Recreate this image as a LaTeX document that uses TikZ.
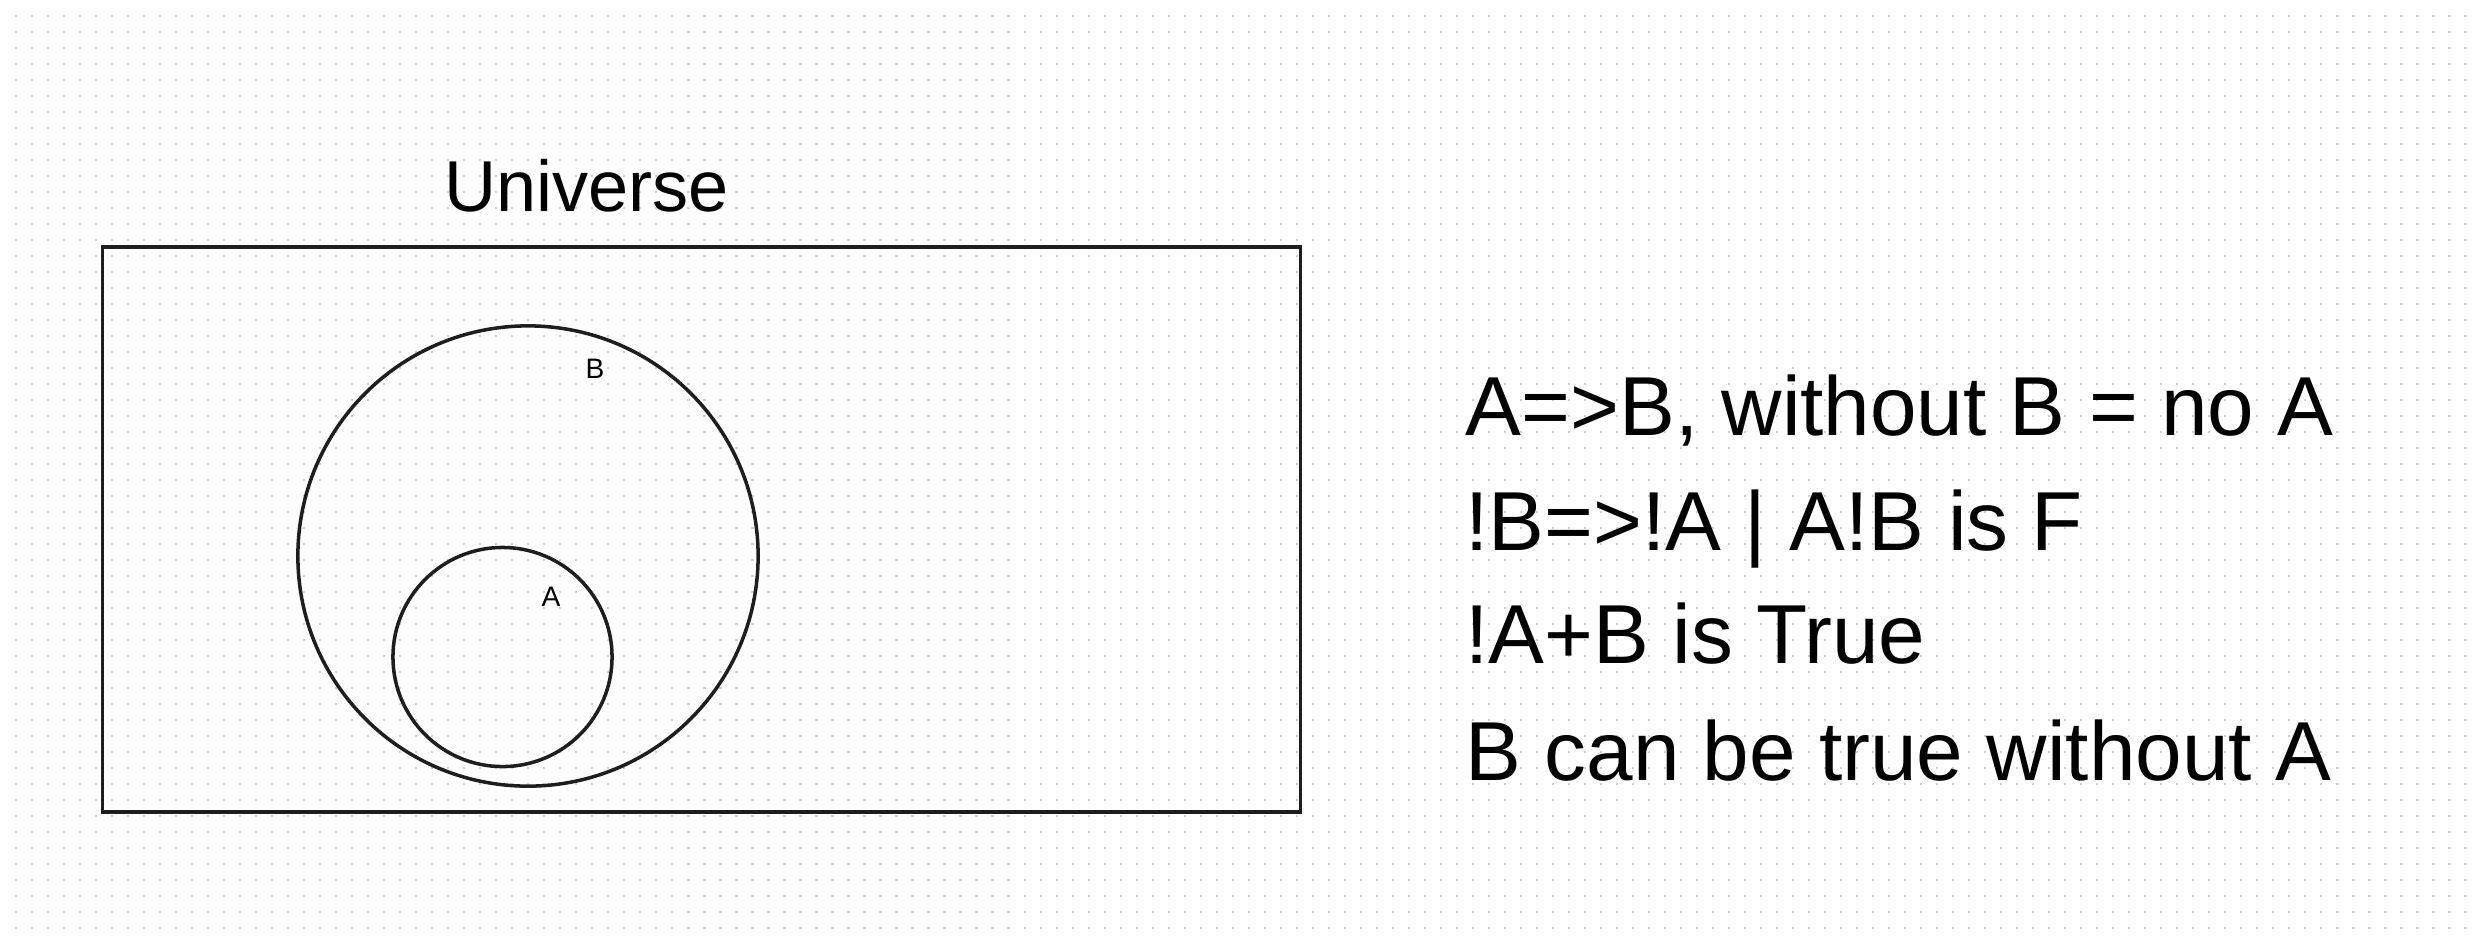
\documentclass[tikz,border=0pt]{standalone}
\usepackage{fontspec}
\setmainfont{Liberation Sans}
\definecolor{ink}{HTML}{1E1E1E}
\definecolor{dotc}{HTML}{CFCFCF}
\begin{document}
\begin{tikzpicture}[x=0.01cm,y=-0.01cm,
  dotline/.style={dotc, line width=0.022cm, dash pattern=on 0.022cm off 0.138cm},
  frame/.style={draw=ink, line width=1pt, inner sep=0, minimum width=11.97cm, minimum height=5.65cm},
  setc/.style={draw=ink, circle, line width=1pt, inner sep=0},
  bigtxt/.style={anchor=base west, inner sep=0, text=black, font=\fontsize{23.8}{28}\selectfont},
  smalltxt/.style={anchor=base, inner sep=0, text=black, font=\fontsize{8}{10}\selectfont}]
\useasboundingbox (0,0) rectangle (2472,944);
\fill[white] (0,0) rectangle (2472,944);
\foreach \yy in {16,32,...,928} {
  \draw[dotline] (14.9,\yy) -- (2472,\yy);
}
\node[frame] (U) at (701.5,529.5) {};
\node[anchor=base, inner sep=0, font=\fontsize{20.5}{24}\selectfont] (ulabel) at (586.5,211) {Universe};
\node[setc, minimum size=4.6cm] (B) at (528,556) {};
\node[setc, minimum size=2.19cm] (A) at (502.5,657) {};
\node[smalltxt] (blabel) at (595,378) {B};
\node[smalltxt] (alabel) at (551,606) {A};
\node[bigtxt] (l1) at (1465,435) {A=>B, without B = no A};
\node[bigtxt] (l2) at (1465,550) {!B=>!A | A!B is F};
\node[bigtxt] (l3) at (1465,663) {!A+B is True};
\node[bigtxt] (l4) at (1465,780) {B can be true without A};
\end{tikzpicture}
\end{document}
